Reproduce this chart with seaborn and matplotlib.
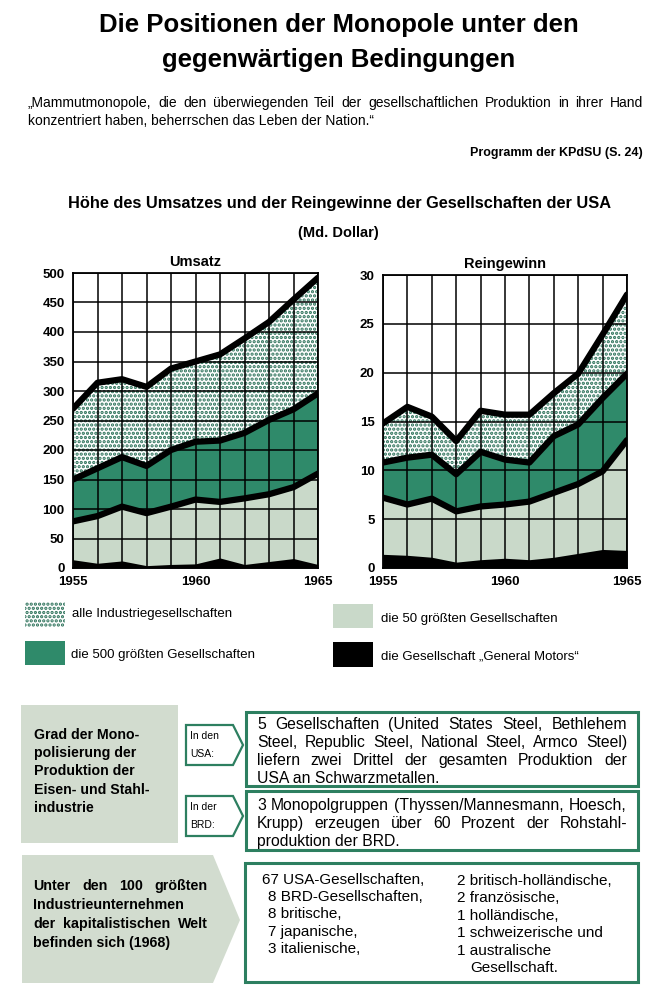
import numpy as np
import pandas as pd
import matplotlib.pyplot as plt
import seaborn as sns
from matplotlib.patches import Rectangle, Polygon

# Werte (Md. Dollar)
jahre = list(range(1955, 1966))
umsatz_alle = [270, 314, 320, 307, 338, 350, 362, 389, 417, 455, 492]
umsatz_500 = [150, 169, 188, 173, 200, 214, 216, 229, 251, 269, 296]
umsatz_50 = [79, 88, 104, 93, 104, 116, 112, 118, 125, 137, 160]
umsatz_gm = [14, 8, 12, 4, 6, 7, 17, 6, 11, 16, 6]
gewinn_alle = [14.8, 16.5, 15.5, 13.0, 16.1, 15.7, 15.7, 17.9, 19.9, 23.9, 28.0]
gewinn_500 = [10.8, 11.3, 11.6, 9.6, 11.9, 11.1, 10.8, 13.5, 14.7, 17.4, 19.9]
gewinn_50 = [7.2, 6.5, 7.1, 5.8, 6.3, 6.5, 6.8, 7.7, 8.6, 9.9, 13.1]
gewinn_gm = [1.4, 1.3, 1.1, 0.6, 0.85, 1.0, 0.85, 1.1, 1.5, 1.9, 1.8]

gruppen = ['alle Industriegesellschaften', 'die 500 größten Gesellschaften',
           'die 50 größten Gesellschaften', 'die Gesellschaft \u201eGeneral Motors\u201c']

dunkelgruen = '#2f8a6a'
hellgruen = '#c9d9c9'
punkt = '#2a7058'
panel = '#d2dccf'
rahmen = '#2d7f60'

sns.set_style('white')
plt.rcParams['font.family'] = ['Liberation Sans', 'DejaVu Sans']
plt.rcParams['hatch.linewidth'] = 1.6
plt.rcParams['text.color'] = 'black'
plt.rcParams['xtick.color'] = 'black'
plt.rcParams['ytick.color'] = 'black'

fig = plt.figure(figsize=(6.5, 9.97), dpi=100)
fig.patch.set_facecolor('white')

ov = fig.add_axes([0, 0, 1, 1], zorder=-1)
ov.set_xlim(0, 650)
ov.set_ylim(997, 0)
ov.axis('off')

BOLD = dict(fontweight='bold')


def zeichne(ax, alle, g500, g50, gm, ymax, step, titel):
    ax.fill_between(jahre, 0, alle, facecolor='white', edgecolor=punkt, hatch='....', lw=0, zorder=1)
    ax.fill_between(jahre, 0, g500, color=dunkelgruen, lw=0, zorder=1.1)
    ax.fill_between(jahre, 0, g50, color=hellgruen, lw=0, zorder=1.2)
    ax.fill_between(jahre, 0, gm, color='black', lw=0, zorder=1.3)
    df = pd.DataFrame({'Jahr': jahre * 3, 'Wert': list(alle) + list(g500) + list(g50),
                       'Gruppe': ['alle'] * 11 + ['500'] * 11 + ['50'] * 11})
    sns.lineplot(data=df, x='Jahr', y='Wert', units='Gruppe', estimator=None,
                 color='black', lw=4.5, ax=ax, zorder=3, legend=False)
    ax.set_xlim(1955, 1965)
    ax.set_ylim(0, ymax)
    ax.set_xticks(jahre)
    ax.set_xticklabels([str(j) if j % 5 == 0 else '' for j in jahre])
    ax.set_yticks(np.arange(0, ymax + 1, step))
    ax.set_axisbelow(False)
    ax.grid(True, color='black', lw=1.1)
    ax.tick_params(length=0, labelsize=9.5, pad=6, labelcolor='black')
    for lab in ax.get_xticklabels() + ax.get_yticklabels():
        lab.set_fontweight('bold')
    for s in ax.spines.values():
        s.set_color('black')
        s.set_linewidth(1.3)
        s.set_zorder(4)
    ax.set_xlabel('')
    ax.set_ylabel('')
    ax.set_title(titel, fontsize=10.5, pad=5, color='black', **BOLD)


ax1 = fig.add_axes([73 / 650, 1 - 568 / 997, 245 / 650, 295 / 997])
zeichne(ax1, umsatz_alle, umsatz_500, umsatz_50, umsatz_gm, 500, 50, 'Umsatz')
ax2 = fig.add_axes([383 / 650, 1 - 568 / 997, 244 / 650, 293 / 997])
zeichne(ax2, gewinn_alle, gewinn_500, gewinn_50, gewinn_gm, 30, 5, 'Reingewinn')

renderer = fig.canvas.get_renderer()


def blocksatz(x0, x1, y, zeile, **kw):
    woerter = zeile.split(' ')
    texte = [ov.text(0, y, w, va='center', ha='left', **kw) for w in woerter]
    breiten = [t.get_window_extent(renderer).width for t in texte]
    luecke = (x1 - x0 - sum(breiten)) / max(len(woerter) - 1, 1)
    x = x0
    for t, b in zip(texte, breiten):
        t.set_x(x)
        x += b + luecke


# Überschriften
ov.text(339, 25, 'Die Positionen der Monopole unter den', ha='center', va='center', fontsize=18.5, **BOLD)
ov.text(339, 60, 'gegenwärtigen Bedingungen', ha='center', va='center', fontsize=18.5, **BOLD)
blocksatz(28, 643, 103, '\u201eMammutmonopole, die den überwiegenden Teil der gesellschaftlichen Produktion in ihrer Hand',
          fontsize=10)
ov.text(28, 121, 'konzentriert haben, beherrschen das Leben der Nation.\u201c', va='center', fontsize=10)
ov.text(643, 153, 'Programm der KPdSU (S. 24)', ha='right', va='center', fontsize=9, fontweight='bold')
ov.text(340, 203, 'Höhe des Umsatzes und der Reingewinne der Gesellschaften der USA', ha='center',
        va='center', fontsize=11.8, **BOLD)
ov.text(338, 233, '(Md. Dollar)', ha='center', va='center', fontsize=10.5, **BOLD)

# Legende
ov.add_patch(Rectangle((25, 602), 40, 25, facecolor='white', edgecolor=punkt, hatch='....', lw=0))
ov.add_patch(Rectangle((25, 641), 40, 24, facecolor=dunkelgruen, lw=0))
ov.add_patch(Rectangle((333, 604), 40, 24, facecolor=hellgruen, lw=0))
ov.add_patch(Rectangle((333, 642), 40, 25, facecolor='black', lw=0))
ov.text(72, 614, gruppen[0], va='center', fontsize=9.5)
ov.text(71, 655, gruppen[1], va='center', fontsize=9.5)
ov.text(381, 619, gruppen[2], va='center', fontsize=9.5)
ov.text(381, 656, gruppen[3], va='center', fontsize=9.5)

# Unterer Teil
ov.add_patch(Rectangle((21, 705), 157, 138, facecolor=panel, lw=0))
for i, z in enumerate(['Grad der Mono-', 'polisierung der', 'Produktion der', 'Eisen- und Stahl-', 'industrie']):
    ov.text(34, 735 + i * 18.2, z, va='center', fontsize=10.2, **BOLD)

for y0, z1, z2 in [(725, 'In den', 'USA:'), (796, 'In der', 'BRD:')]:
    ov.add_patch(Polygon([(186, y0), (233, y0), (243, y0 + 20), (233, y0 + 40), (186, y0 + 40)],
                         closed=True, facecolor='white', edgecolor=rahmen, lw=1.6))
    ov.text(190, y0 + 11, z1, va='center', fontsize=7.5)
    ov.text(190, y0 + 29, z2, va='center', fontsize=7.5)

ov.add_patch(Rectangle((246, 712), 392, 74, facecolor='white', edgecolor=rahmen, lw=2.2))
ov.add_patch(Rectangle((246, 791), 392, 59, facecolor='white', edgecolor=rahmen, lw=2.2))
box1 = ['5 Gesellschaften (United States Steel, Bethlehem',
        'Steel, Republic Steel, National Steel, Armco Steel)',
        'liefern zwei Drittel der gesamten Produktion der']
for i, z in enumerate(box1):
    blocksatz(257, 627, 724 + i * 18, z, fontsize=11.3)
ov.text(257, 778, 'USA an Schwarzmetallen.', va='center', fontsize=11.3)
blocksatz(257, 627, 805, '3 Monopolgruppen (Thyssen/Mannesmann, Hoesch,', fontsize=11.3)
blocksatz(257, 627, 823, 'Krupp) erzeugen über 60 Prozent der Rohstahl-', fontsize=11.3)
ov.text(257, 841, 'produktion der BRD.', va='center', fontsize=11.3)

ov.add_patch(Polygon([(22, 855), (213, 855), (240, 920), (213, 983), (22, 983)], closed=True,
                     facecolor=panel, lw=0))
blocksatz(33, 208, 886, 'Unter den 100 größten', fontsize=10.3, **BOLD)
ov.text(33, 905, 'Industrieunternehmen', va='center', fontsize=10.3, **BOLD)
blocksatz(33, 208, 924, 'der kapitalistischen Welt', fontsize=10.3, **BOLD)
ov.text(33, 943, 'befinden sich (1968)', va='center', fontsize=10.3, **BOLD)

ov.add_patch(Rectangle((245, 863), 393, 119, facecolor='white', edgecolor=rahmen, lw=2.2))
links = ['67 USA-Gesellschaften,', '8 BRD-Gesellschaften,', '8 britische,', '7 japanische,', '3 italienische,']
rechts = ['2 britisch-holländische,', '2 französische,', '1 holländische,', '1 schweizerische und',
          '1 australische', 'Gesellschaft.']
for i, z in enumerate(links):
    ov.text(262 if i == 0 else 268, 880 + i * 17.2, z, va='center', fontsize=11)
for i, z in enumerate(rechts):
    ov.text(470 if i == 5 else 457, 881 + i * 17.4, z, va='center', fontsize=11)

fig.savefig('out.png', dpi=100)
